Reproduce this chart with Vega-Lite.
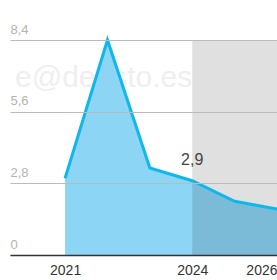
{
  "$schema": "https://vega.github.io/schema/vega-lite/v6.json",
  "width": 267,
  "height": 215,
  "padding": {"left": 10, "top": 40, "right": 0, "bottom": 25},
  "autosize": {"type": "none"},
  "config": {"view": {"stroke": null}, "font": "Liberation Sans"},
  "datasets": {
    "series": [
      {"year": 2021, "value": 3.0},
      {"year": 2022, "value": 8.4},
      {"year": 2023, "value": 3.4},
      {"year": 2024, "value": 2.9},
      {"year": 2025, "value": 2.1},
      {"year": 2026, "value": 1.8}
    ],
    "band": [{"start": 2024, "end": 2026, "low": 0, "high": 8.4}],
    "note": [{"year": 2024, "value": 2.9, "label": "2,9"}],
    "mark": [{"year": 2024, "value": 6.58, "label": "e@deusto.es"}]
  },
  "layer": [
    {
      "data": {"name": "mark"},
      "mark": {"type": "text", "align": "right", "baseline": "alphabetic", "fontSize": 30, "color": "#efefef"},
      "encoding": {
        "x": {"field": "year", "type": "quantitative"},
        "y": {"field": "value", "type": "quantitative"},
        "text": {"field": "label"}
      }
    },
    {
      "data": {"name": "series"},
      "mark": {"type": "area", "color": "#8dd5f5", "opacity": 1},
      "encoding": {
        "x": {
          "field": "year", "type": "quantitative",
          "scale": {"domain": [2019.7, 2026], "nice": false, "zero": false},
          "axis": {
            "title": null, "values": [2021, 2024, 2026], "format": "d",
            "grid": false, "ticks": false, "labelPadding": 8,
            "labelFontSize": 14, "labelColor": "#333333", "labelFlush": true,
            "domainColor": "#333333", "domainWidth": 1.5, "zindex": 1
          }
        },
        "y": {
          "field": "value", "type": "quantitative",
          "scale": {"domain": [0, 8.4], "nice": false},
          "axis": {
            "title": null, "values": [0, 2.8, 5.6, 8.4],
            "labelExpr": "datum.value == 0 ? '0' : replace(format(datum.value, '.1f'), '.', ',')",
            "domain": false, "ticks": false, "tickSize": 0,
            "labelAlign": "left", "labelBaseline": "alphabetic", "labelPadding": 0, "labelOffset": -7,
            "labelFontSize": 13, "labelColor": "#b3b3b3",
            "gridColor": "#bbbbbb", "gridWidth": 1.2, "zindex": 1
          }
        }
      }
    },
    {
      "data": {"name": "band"},
      "mark": {"type": "rect", "color": "#000000", "opacity": 0.12},
      "encoding": {
        "x": {"field": "start", "type": "quantitative"},
        "x2": {"field": "end"},
        "y": {"field": "low", "type": "quantitative"},
        "y2": {"field": "high"}
      }
    },
    {
      "data": {"name": "series"},
      "mark": {"type": "line", "color": "#0fb8ec", "strokeWidth": 3},
      "encoding": {
        "x": {"field": "year", "type": "quantitative"},
        "y": {"field": "value", "type": "quantitative"}
      }
    },
    {
      "data": {"name": "note"},
      "mark": {"type": "text", "dy": -21, "fontSize": 16, "color": "#444444"},
      "encoding": {
        "x": {"field": "year", "type": "quantitative"},
        "y": {"field": "value", "type": "quantitative"},
        "text": {"field": "label"}
      }
    }
  ]
}
